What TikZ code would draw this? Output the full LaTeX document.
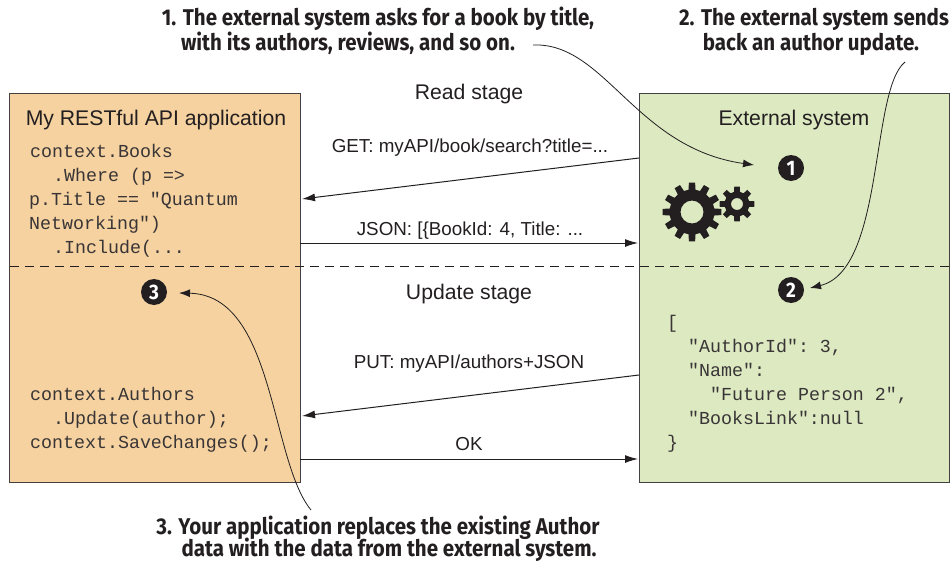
\documentclass[tikz,border=0pt]{standalone}
\usepackage{fontspec}
\setmainfont{Liberation Sans}
\setmonofont{Liberation Mono}
\newfontfamily\calloutfont[FakeStretch=0.9]{Fira Sans}
\usetikzlibrary{arrows.meta}
\definecolor{ink}{HTML}{231F20}
\definecolor{appfill}{HTML}{F5D2A0}
\definecolor{extfill}{HTML}{DCE9C1}
\newcommand{\gearpath}[6]{%
  \pgfmathsetmacro{\gstep}{360/#6}
  \pgfmathtruncatemacro{\glast}{#6-1}
  \fill[ink,even odd rule]
    ({#1+#4*cos(-\gstep*0.3)},{#2+#4*sin(-\gstep*0.3)})
    -- ({#1+#3*cos(-\gstep*0.2)},{#2+#3*sin(-\gstep*0.2)})
    -- ({#1+#3*cos(\gstep*0.2)},{#2+#3*sin(\gstep*0.2)})
    -- ({#1+#4*cos(\gstep*0.3)},{#2+#4*sin(\gstep*0.3)})
  \foreach \gi in {1,...,\glast}{
    -- ({#1+#4*cos(\gi*\gstep-\gstep*0.3)},{#2+#4*sin(\gi*\gstep-\gstep*0.3)})
    -- ({#1+#3*cos(\gi*\gstep-\gstep*0.2)},{#2+#3*sin(\gi*\gstep-\gstep*0.2)})
    -- ({#1+#3*cos(\gi*\gstep+\gstep*0.2)},{#2+#3*sin(\gi*\gstep+\gstep*0.2)})
    -- ({#1+#4*cos(\gi*\gstep+\gstep*0.3)},{#2+#4*sin(\gi*\gstep+\gstep*0.3)})
  } -- cycle (#1,#2) circle (#5);
}
\tikzset{
  x=1pt,y=-1pt,
  panel/.style={draw=ink!85,line width=1pt,inner sep=0pt,minimum width=#1,minimum height=389pt,anchor=north west},
  title/.style={font=\fontsize{21.2}{25}\selectfont,text=ink,inner sep=0pt,anchor=base},
  msg/.style={font=\fontsize{18.8}{22}\selectfont,text=ink,inner sep=0pt,anchor=base},
  code/.style={font=\ttfamily\fontsize{18.3}{22}\selectfont,text=ink!90,inner sep=0pt,anchor=base west},
  callout/.style={font=\calloutfont\bfseries\fontsize{22.8}{27}\selectfont,text=ink,inner sep=0pt,anchor=base,align=center},
  num/.style={circle,fill=ink,text=white,minimum size=26pt,inner sep=0pt,font=\calloutfont\bfseries\fontsize{21}{21}\selectfont},
  flow/.style={draw=ink,line width=1pt,-{Latex[length=13pt,width=8pt]}},
  note/.style={draw=ink,line width=0.8pt,-{Latex[length=11pt,width=8pt]}},
}
\begin{document}
\begin{tikzpicture}
\useasboundingbox (0,0) rectangle (950,562);
\node[panel=291pt,fill=appfill] (app) at (9,93) {};
\node[panel=310pt,fill=extfill] (ext) at (639,93) {};
% stage divider
\coordinate (divL) at (10,266);
\coordinate (divR) at (949,266);
\draw[ink,line width=1pt,dash pattern=on 9pt off 6pt] (divL) -- (divR);
% titles
\node[title] (apptitle) at (156,125) {My RESTful API application};
\node[title] (exttitle) at (794,125) {External system};
\node[title] (readst) at (469,99) {Read stage};
\node[title] (updst) at (469,299) {Update stage};
% code left
\node[code] (c1) at (30,157) {context.Books};
\node[code] (c2) at (53,181) {.Where (p =>};
\node[code] (c3) at (29,205) {p.Title == "Quantum};
\node[code] (c4) at (29,229) {Networking")};
\node[code] (c5) at (53,253) {.Include(...};
\node[code] (c6) at (30,400) {context.Authors};
\node[code] (c7) at (53,424) {.Update(author);};
\node[code] (c8) at (30,448) {context.SaveChanges();};
% code right
\node[code] (j1) at (667,328) {[};
\node[code] (j2) at (688,352) {"AuthorId": 3,};
\node[code] (j3) at (688,376) {"Name":};
\node[code] (j4) at (710,400) {"Future Person 2",};
\node[code] (j5) at (688,424) {"BooksLink":null};
\node[code] (j6) at (667,448) {\}};
% gears
\gearpath{692}{212}{29.5}{22.5}{11.5}{12}
\gearpath{737}{204}{17.5}{12.5}{6}{8}
% numbered markers
\node[num] (n1) at (791,168) {1};
\node[num] (n2) at (791,290) {2};
\node[num] (n3) at (154,292) {3};
% messages
\coordinate (getA) at (639,158);
\coordinate (getB) at (302,199);
\coordinate (jsA) at (300,243);
\coordinate (jsB) at (638,243);
\coordinate (putA) at (639,375);
\coordinate (putB) at (302,416);
\coordinate (okA) at (300,459);
\coordinate (okB) at (638,459);
\draw[flow] (getA) -- (getB);
\draw[flow] (jsA) -- (jsB);
\draw[flow] (putA) -- (putB);
\draw[flow] (okA) -- (okB);
\node[msg] (m1) at (470,152) {GET: myAPI/book/search?title=...};
\node[msg] (m2) at (470,235) {JSON: [\{BookId: 4, Title: ...};
\node[msg] (m3) at (469,368) {PUT: myAPI/authors+JSON};
\node[msg] (m4) at (469,450) {OK};
% callouts
\node[callout] (t1a) at (378,25) {1. The external system asks for a book by title,};
\node[callout] (t1b) at (348,50) {with its authors, reviews, and so on.};
\node[callout] (t2a) at (814,25) {2. The external system sends};
\node[callout] (t2b) at (811,50) {back an author update.};
\node[callout] (t3a) at (378,534) {3. Your application replaces the existing Author};
\node[callout] (t3b) at (389,556.5) {data with the data from the external system.};
% callout curves
\coordinate (s1) at (533,45);
\coordinate (e1) at (754,165);
\coordinate (s2) at (905,62);
\coordinate (e2) at (810,288);
\coordinate (s3) at (311,510);
\coordinate (e3) at (179,293);
\draw[note] (s1) .. controls (605,42) and (635,148) .. (e1);
\draw[note] (s2) .. controls (870,90) and (885,270) .. (e2);
\draw[note] (s3) .. controls (270,460) and (275,295) .. (e3);
\end{tikzpicture}
\end{document}
